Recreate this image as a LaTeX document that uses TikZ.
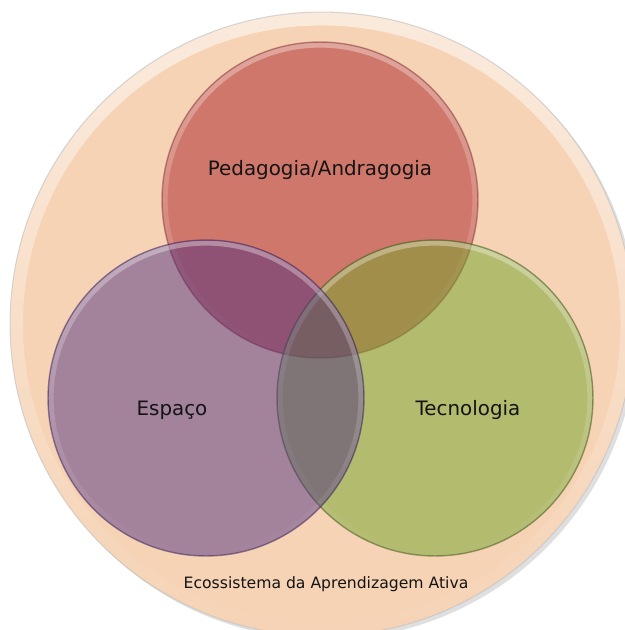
\documentclass[tikz,border=0pt]{standalone}
\usepackage{fontspec}
\setmainfont{DejaVu Sans}
\usepackage{xcolor}
\definecolor{peach}{HTML}{F6D3B5}
\definecolor{pedred}{HTML}{C0504D}
\definecolor{tecgreen}{HTML}{72A52B}
\definecolor{espviolet}{HTML}{492A7F}
\definecolor{inktext}{HTML}{141414}
\usepackage{tikz}
\usetikzlibrary{positioning,shadows,fadings}

\begin{document}
\begin{tikzpicture}[x=0.02cm, y=-0.02cm,
    gloss/.style={draw=white, draw opacity=0.35, line width=3pt, path fading=south},
    set/.style={circle, inner sep=0pt, minimum size=6.32cm,
      draw opacity=0.5, line width=0.8pt,
      path picture={\draw[gloss] (path picture bounding box.center) circle[radius=155];}},
    setname/.style={font=\fontsize{11.3}{13}\selectfont, text=inktext}]
  \useasboundingbox (0,0) rectangle (625,630);
  \clip (0,0) rectangle (625,630);
  % ecossistema -- outer disc
  \node[circle, inner sep=0pt, minimum size=12.48cm, fill=peach,
    draw=black!25, draw opacity=0.6, line width=0.6pt,
    drop shadow={opacity=0.25, shadow xshift=2pt, shadow yshift=-2pt},
    path picture={\draw[gloss, line width=8pt, draw opacity=0.55]
      (path picture bounding box.center) circle[radius=306];}] (eco) at (322,324) {};
  % the three sets
  \node[set, fill=pedred, fill opacity=0.7, draw=pedred!70!black] (ped) at (320,200) {};
  \node[set, fill=tecgreen, fill opacity=0.5, draw=tecgreen!50!black] (tec) at (435,398) {};
  \node[set, fill=espviolet, fill opacity=0.48, draw=espviolet!70!black] (esp) at (206,398) {};
  % labels
  \node[setname] (pedlbl) at (320,170) {Pedagogia/Andragogia};
  \node[setname] (esplbl) at (172,410) {Espaço};
  \node[setname] (teclbl) at (468,410) {Tecnologia};
  \node[font=\fontsize{8.9}{11}\selectfont, text=inktext] (ecolbl) at (326,584) {Ecossistema da Aprendizagem Ativa};
\end{tikzpicture}
\end{document}
